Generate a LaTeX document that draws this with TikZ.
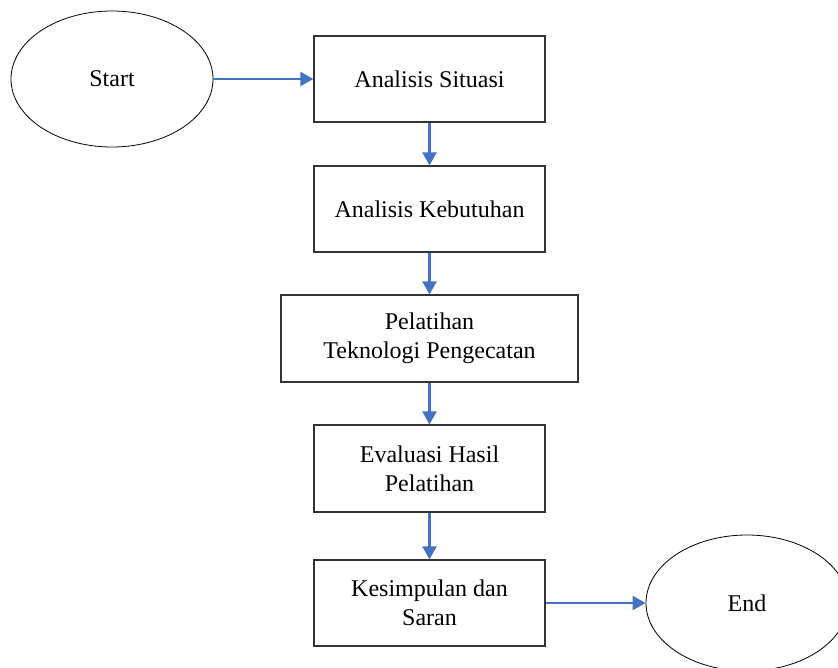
\documentclass[tikz,border=0pt]{standalone}
\usepackage{fontspec}
\setmainfont{Liberation Serif}
\usepackage{tikz}
\usetikzlibrary{shapes.geometric}
\usetikzlibrary{arrows.meta}

\definecolor{flowblue}{RGB}{68,114,196}

\begin{document}
\begin{tikzpicture}[x=1pt, y=-1pt,
    font=\fontsize{24}{29}\selectfont,
    terminal/.style = {draw, ellipse, line width=0.8pt, inner sep=0pt,
                       minimum width=202pt, minimum height=136pt},
    stepbox/.style  = {draw=black!80, line width=1.2pt, align=center,
                       minimum width=231pt, minimum height=86pt},
    flow/.style     = {-{Triangle[length=13pt, width=14pt]}, draw=flowblue,
                       line width=2.2pt}]
    \useasboundingbox (0,0) rectangle (838,667);

    % draw start and end
    \node[terminal] (start) at (112,79) {Start};
    \node[terminal] (end)   at (747,603) {End};

    % draw steps
    \node[stepbox] (situasi)    at (429.5,79)    {Analisis Situasi};
    \node[stepbox] (kebutuhan)  at (429.5,209)   {Analisis Kebutuhan};
    \node[stepbox, minimum width=297pt, minimum height=87pt]
                   (pelatihan)  at (429.5,338.5) {Pelatihan\\Teknologi Pengecatan};
    \node[stepbox, minimum height=87pt]
                   (evaluasi)   at (429.5,468.5) {Evaluasi Hasil\\Pelatihan};
    \node[stepbox] (kesimpulan) at (429.5,603)   {Kesimpulan dan\\Saran};

    % draw arrows
    \draw[flow] (start) -- (situasi);
    \draw[flow] (situasi) -- (kebutuhan);
    \draw[flow] (kebutuhan) -- (pelatihan);
    \draw[flow] (pelatihan) -- (evaluasi);
    \draw[flow] (evaluasi) -- (kesimpulan);
    \draw[flow] (kesimpulan) -- (end);

\end{tikzpicture}
\end{document}
